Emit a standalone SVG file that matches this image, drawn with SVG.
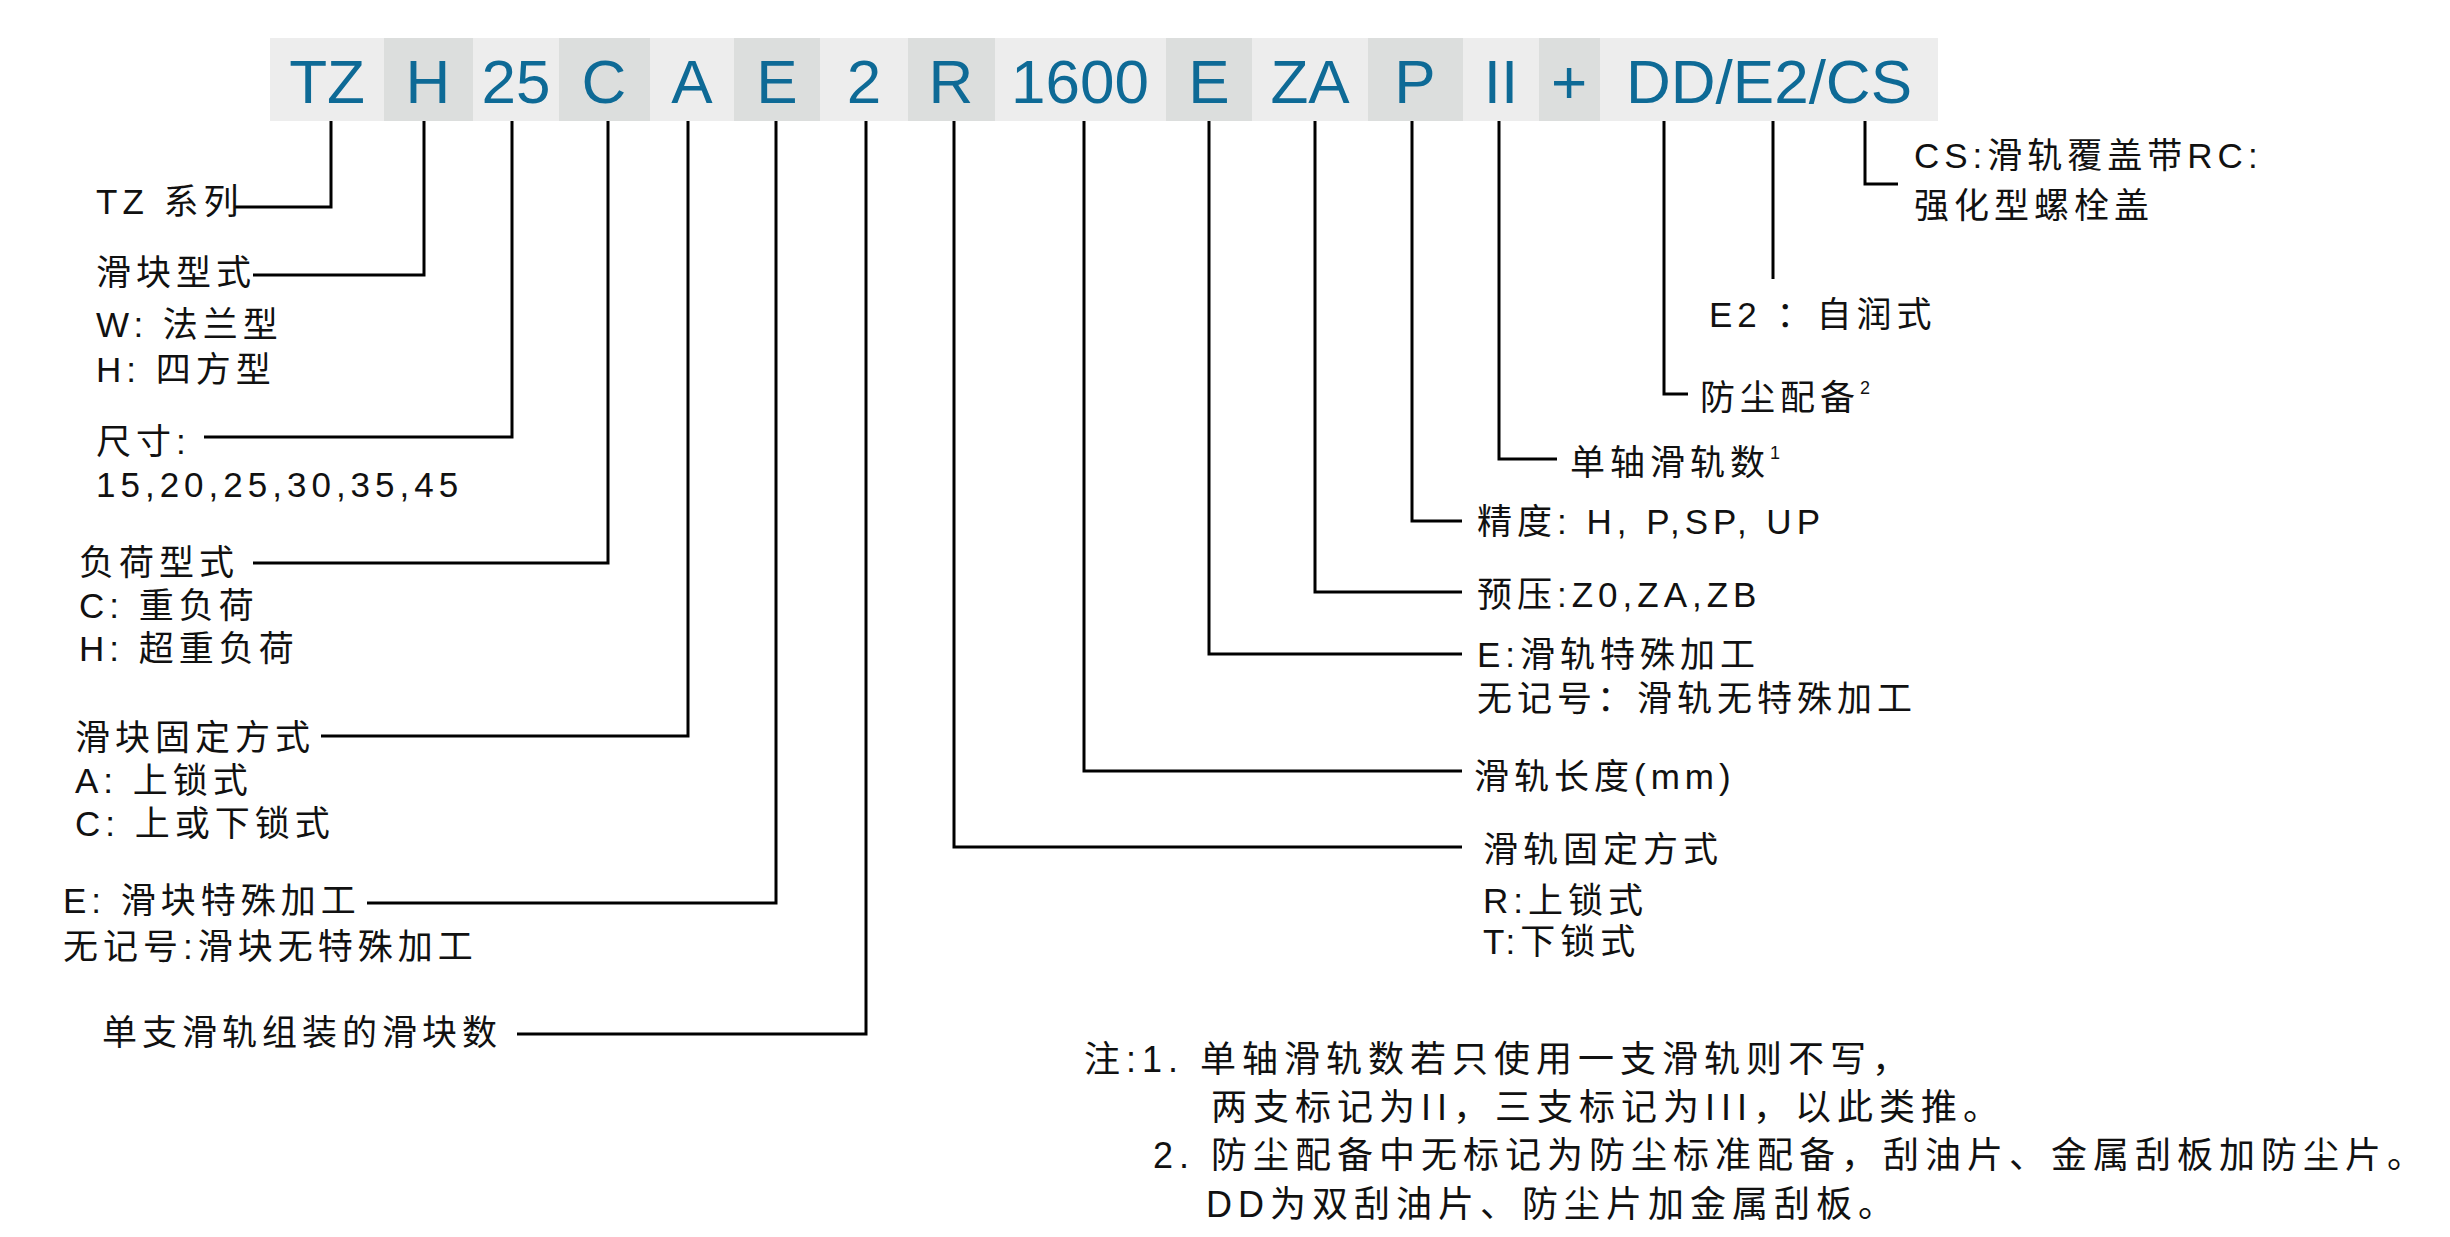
<svg xmlns="http://www.w3.org/2000/svg" width="2450" height="1237" viewBox="0 0 2450 1237">
<style>
.l{fill:#ededed}.d{fill:#dcdedd}
.code{font-family:"Liberation Sans",Arial,sans-serif;font-size:62px;fill:#0e6a96;text-anchor:middle}
.t{font-family:"Liberation Sans","Noto Sans CJK SC",sans-serif;font-size:35px;fill:#111;letter-spacing:5px}
.n{font-family:"Liberation Sans","Noto Sans CJK SC",sans-serif;font-size:36px;fill:#111;letter-spacing:6px}
.c{fill:none;stroke:#000;stroke-width:3}
</style>
<rect width="2450" height="1237" fill="#fff"/>
<g id="bar">
<rect class="l" x="270" y="38" width="114" height="83"/>
<rect class="d" x="384" y="38" width="89" height="83"/>
<rect class="l" x="473" y="38" width="86" height="83"/>
<rect class="d" x="559" y="38" width="91" height="83"/>
<rect class="l" x="650" y="38" width="84" height="83"/>
<rect class="d" x="734" y="38" width="86" height="83"/>
<rect class="l" x="820" y="38" width="88" height="83"/>
<rect class="d" x="908" y="38" width="87" height="83"/>
<rect class="l" x="995" y="38" width="171" height="83"/>
<rect class="d" x="1166" y="38" width="86" height="83"/>
<rect class="l" x="1252" y="38" width="116" height="83"/>
<rect class="d" x="1368" y="38" width="95" height="83"/>
<rect class="l" x="1463" y="38" width="76" height="83"/>
<rect class="d" x="1539" y="38" width="61" height="83"/>
<rect class="l" x="1600" y="38" width="338" height="83"/>
<text class="code" x="327" y="103">TZ</text>
<text class="code" x="428" y="103">H</text>
<text class="code" x="516" y="103">25</text>
<text class="code" x="604" y="103">C</text>
<text class="code" x="692" y="103">A</text>
<text class="code" x="777" y="103">E</text>
<text class="code" x="864" y="103">2</text>
<text class="code" x="951" y="103">R</text>
<text class="code" x="1080" y="103">1600</text>
<text class="code" x="1209" y="103">E</text>
<text class="code" x="1310" y="103">ZA</text>
<text class="code" x="1415" y="103">P</text>
<text class="code" x="1501" y="103">II</text>
<text class="code" x="1569" y="103">+</text>
<text class="code" x="1769" y="103">DD/E2/CS</text>
</g>
<g id="connectors">
<polyline class="c" points="331,121 331,207 235,207"/>
<polyline class="c" points="424,121 424,275 253,275"/>
<polyline class="c" points="512,121 512,437 204,437"/>
<polyline class="c" points="608,121 608,563 253,563"/>
<polyline class="c" points="688,121 688,736 321,736"/>
<polyline class="c" points="776,121 776,903 367,903"/>
<polyline class="c" points="866,121 866,1034 517,1034"/>
<polyline class="c" points="954,121 954,847 1462,847"/>
<polyline class="c" points="1084,121 1084,771 1462,771"/>
<polyline class="c" points="1209,121 1209,654 1462,654"/>
<polyline class="c" points="1315,121 1315,592 1462,592"/>
<polyline class="c" points="1412,121 1412,521 1462,521"/>
<polyline class="c" points="1499,121 1499,459 1557,459"/>
<polyline class="c" points="1664,121 1664,394 1688,394"/>
<polyline class="c" points="1773,121 1773,279"/>
<polyline class="c" points="1865,121 1865,184 1898,184"/>
</g>
<g id="n-tz"><text class="t" x="96" y="214">TZ 系列</text></g>
<g id="n-h"><text class="t" x="96" y="285">滑块型式</text><text class="t" x="96" y="337">W: 法兰型</text><text class="t" x="96" y="382">H: 四方型</text></g>
<g id="n-25"><text class="t" x="96" y="454">尺寸:</text><text class="t" x="96" y="497">15,20,25,30,35,45</text></g>
<g id="n-c"><text class="t" x="79" y="575">负荷型式</text><text class="t" x="79" y="618">C: 重负荷</text><text class="t" x="79" y="661">H:  超重负荷</text></g>
<g id="n-a"><text class="t" x="75" y="750">滑块固定方式</text><text class="t" x="75" y="793">A:  上锁式</text><text class="t" x="75" y="836">C:  上或下锁式</text></g>
<g id="n-e"><text class="t" x="63" y="913">E:  滑块特殊加工</text><text class="t" x="63" y="959">无记号:滑块无特殊加工</text></g>
<g id="n-2"><text class="t" x="102" y="1045">单支滑轨组装的滑块数</text></g>
<g id="n-cs"><text class="t" x="1914" y="168" letter-spacing="2">CS:滑轨覆盖带RC:</text><text class="t" x="1914" y="218">强化型螺栓盖</text></g>
<g id="n-e2"><text class="t" x="1709" y="327">E2 ：自润式</text></g>
<g id="n-dd"><text class="t" x="1700" y="410" letter-spacing="2">防尘配备<tspan font-size="18" dy="-16">2</tspan></text></g>
<g id="n-ii"><text class="t" x="1570" y="475" letter-spacing="2">单轴滑轨数<tspan font-size="18" dy="-16">1</tspan></text></g>
<g id="n-p"><text class="t" x="1477" y="534" letter-spacing="1">精度: H, P,SP, UP</text></g>
<g id="n-za"><text class="t" x="1477" y="607" letter-spacing="1">预压:Z0,ZA,ZB</text></g>
<g id="n-re"><text class="t" x="1477" y="667" letter-spacing="2">E:滑轨特殊加工</text><text class="t" x="1477" y="711">无记号：滑轨无特殊加工</text></g>
<g id="n-len"><text class="t" x="1474" y="789" letter-spacing="2">滑轨长度(mm)</text></g>
<g id="n-r"><text class="t" x="1483" y="862">滑轨固定方式</text><text class="t" x="1483" y="913" letter-spacing="2">R:上锁式</text><text class="t" x="1483" y="954" letter-spacing="2">T:下锁式</text></g>
<g id="notes">
<text class="n" x="1084" y="1072">注:1. 单轴滑轨数若只使用一支滑轨则不写，</text>
<text class="n" x="1211" y="1120">两支标记为II，三支标记为III，以此类推。</text>
<text class="n" x="1153" y="1168">2. 防尘配备中无标记为防尘标准配备，刮油片、金属刮板加防尘片。</text>
<text class="n" x="1206" y="1217" letter-spacing="4">DD为双刮油片、防尘片加金属刮板。</text>
</g>
</svg>
